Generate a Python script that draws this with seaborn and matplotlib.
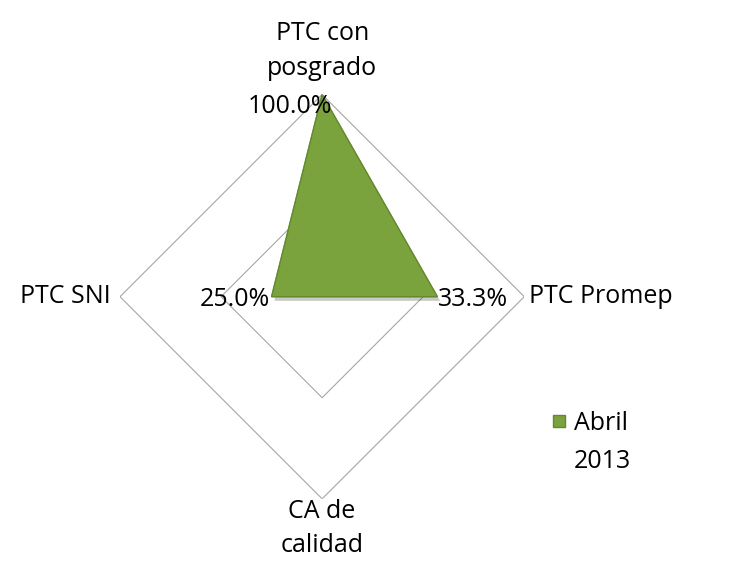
import numpy as np
import matplotlib.pyplot as plt
import seaborn as sns
from matplotlib.lines import Line2D
import matplotlib.patheffects as pe

# Data
categorias = ["PTC con\nposgrado", "PTC Promep", "CA de\ncalidad", "PTC SNI"]
valores = [1.0, 0.57, 0.0, 0.25]
etiquetas = ["100.0%", "33.3%", "", "25.0%"]
serie = ["Abril", "2013"]
niveles = [0.5, 1.0]

sns.set_theme(style="white")
plt.rcParams['font.family'] = ['Open Sans', 'DejaVu Sans']

fig = plt.figure(figsize=(7.5, 5.8), dpi=100)
ax = fig.add_axes([0.160, 0.140, 0.539, 0.697], projection='polar')
ax.set_theta_offset(np.pi / 2)
ax.set_theta_direction(-1)

angulos = np.linspace(0, 2 * np.pi, len(categorias), endpoint=False)
cerrado = np.append(angulos, angulos[0])

# diamond gridlines
for r in niveles:
    ax.plot(cerrado, [r] * len(cerrado), color="#a6a6a6", lw=0.8, zorder=1)

verde = "#7aa33d"
vals = np.append(valores, valores[0])
ax.fill(cerrado, vals, color=verde, zorder=3,
        path_effects=[pe.SimplePatchShadow(offset=(2, -3), alpha=0.25), pe.Normal()])
ax.plot(cerrado, vals, color="#64892f", lw=1.0, zorder=4)

ax.set_ylim(0, 1.0)
ax.set_xticks([])
ax.set_yticks([])
ax.grid(False)
ax.spines['polar'].set_visible(False)
ax.set_facecolor('none')

fs = 18
# category labels
alinea = [("center", "bottom", (0, 14)), ("left", "center", (5, 0)),
          ("center", "top", (0, 0)), ("right", "center", (-9, 0))]
for ang, cat, (ha, va, off) in zip(angulos, categorias, alinea):
    ax.annotate(cat, (ang, 1.0), xytext=off, textcoords='offset pixels',
                ha=ha, va=va, fontsize=fs, linespacing=1.5, color="black")

# data labels
pos_et = [("right", "center", (10, -12)), ("left", "center", (1, -3)),
          ("center", "center", (0, 0)), ("right", "center", (-2, -3))]
for ang, v, et, (ha, va, off) in zip(angulos, valores, etiquetas, pos_et):
    if et:
        ax.annotate(et, (ang, v), xytext=off, textcoords='offset pixels',
                    ha=ha, va=va, fontsize=fs, color="black", zorder=5)

handle = Line2D([], [], marker='s', ls='', markersize=8,
                markerfacecolor=verde, markeredgecolor="#64892f")
leg = fig.legend([handle], [serie[0]], loc="center left", bbox_to_anchor=(0.735, 0.27),
                 frameon=False, fontsize=fs, handlelength=0.6,
                 handletextpad=0.3, borderaxespad=0, borderpad=0, labelcolor="black")

# second line of the legend label, placed under the first
fig.canvas.draw()
bb = leg.get_texts()[0].get_window_extent().transformed(fig.transFigure.inverted())
fig.text(bb.x0, bb.y0 - 0.065, serie[1], fontsize=fs, color="black", ha="left", va="bottom")

fig.savefig("out.png", dpi=100)
